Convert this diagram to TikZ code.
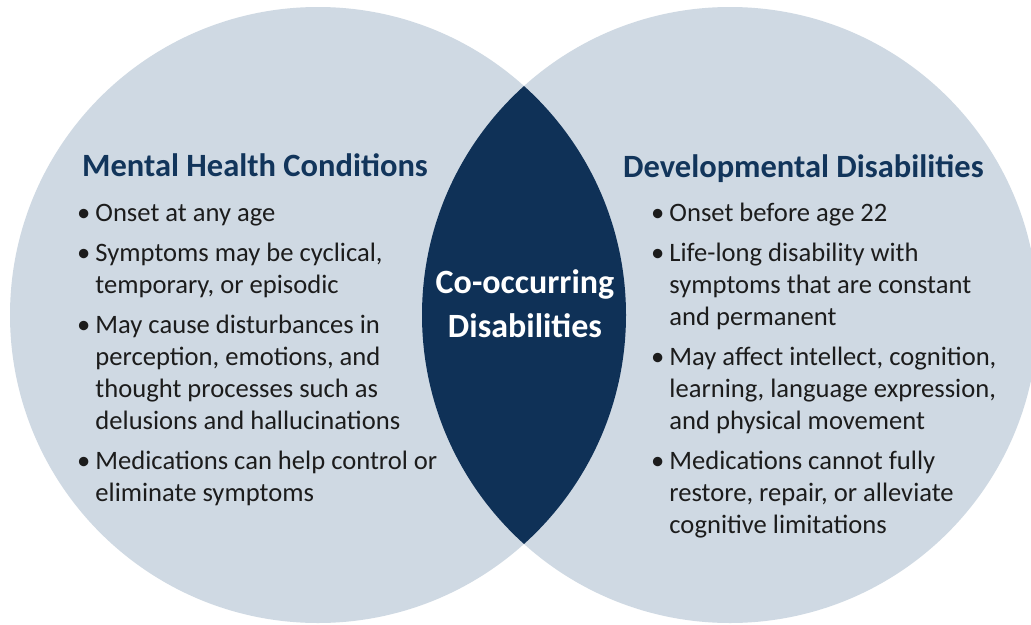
\documentclass[tikz,border=0pt]{standalone}
\usepackage{fontspec}
\setmainfont{Carlito}
\definecolor{circfill}{HTML}{CFD9E3}
\definecolor{lensfill}{HTML}{0F3157}
\definecolor{headcol}{HTML}{12355B}
\definecolor{bodycol}{HTML}{1C1C1C}
\tikzset{
  heading/.style={anchor=base west, inner sep=0pt, text=headcol, font=\fontsize{32.5}{38}\selectfont\bfseries},
  item/.style={anchor=base west, inner sep=0pt, text=bodycol, font=\fontsize{26.6}{32}\selectfont},
  center/.style={anchor=base, inner sep=0pt, text=white, align=center, font=\fontsize{34}{44}\selectfont\bfseries},
}
\newcommand{\bitem}[1]{\begin{tabular}[t]{@{}l@{\hspace{5pt}}l@{}}\textbullet & #1\end{tabular}}
\begin{document}
\begin{tikzpicture}[x=1pt,y=-1pt]
\useasboundingbox (0,0) rectangle (1031,624);
\clip (0,0) rectangle (1031,624);
\fill[white] (0,0) rectangle (1031,624);
\coordinate (cl) at (318,315);
\coordinate (cr) at (730,315);
\fill[circfill] (cl) circle[radius=308];
\fill[circfill] (cr) circle[radius=308];
\begin{scope}
  \clip (cl) circle[radius=308];
  \fill[lensfill] (cr) circle[radius=308];
\end{scope}
% headings
\node[heading] (hl) at (82,176) {Mental Health Conditions};
\node[heading] (hr) at (623,177) {Developmental Disabilities};
% center
\node[center] (cc) at (525,337) {Co-occurring\\Disabilities};
% left items
\node[item] (l1) at (77,221) {\bitem{Onset at any age}};
\node[item] (l2) at (77,261) {\bitem{Symptoms may be cyclical,\\ & temporary, or episodic}};
\node[item] (l3) at (77,333) {\bitem{May cause disturbances in\\ & perception, emotions, and\\ & thought processes such as\\ & delusions and hallucinations}};
\node[item] (l4) at (77,469) {\bitem{Medications can help control or\\ & eliminate symptoms}};
% right items
\node[item] (r1) at (651,221) {\bitem{Onset before age 22}};
\node[item] (r2) at (651,261) {\bitem{Life-long disability with\\ & symptoms that are constant\\ & and permanent}};
\node[item] (r3) at (651,365) {\bitem{May affect intellect, cognition,\\ & learning, language expression,\\ & and physical movement}};
\node[item] (r4) at (651,469) {\bitem{Medications cannot fully\\ & restore, repair, or alleviate\\ & cognitive limitations}};
\end{tikzpicture}
\end{document}
